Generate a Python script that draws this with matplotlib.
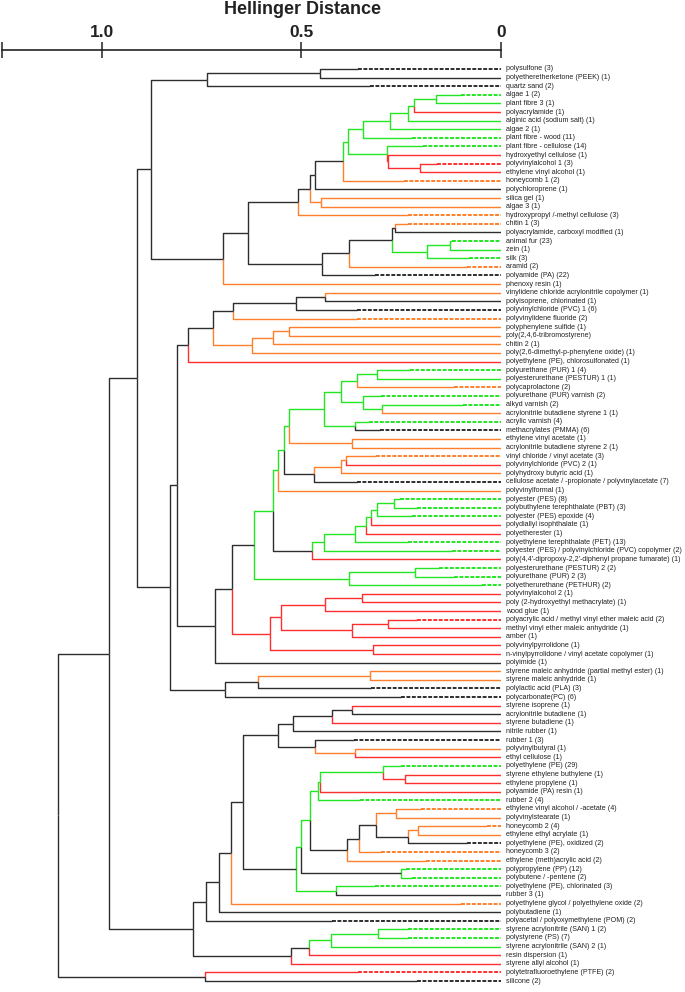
import matplotlib
matplotlib.use("Agg")  # no display
import matplotlib.pyplot as plt

plt.rcParams["font.family"] = ["Liberation Sans", "DejaVu Sans"]

# colour codes used in the tree
COLORS = {"k": "#2e2e2e", "g": "#22e622", "r": "#ff2e2e", "o": "#ff7f2a"}

# --- leaves, top to bottom ---
labels = [
    "polysulfone (3)", "polyetheretherketone (PEEK) (1)", "quartz sand (2)",
    "algae 1 (2)", "plant fibre 3 (1)", "polyacrylamide (1)",
    "alginic acid (sodium salt) (1)", "algae 2 (1)", "plant fibre - wood (11)",
    "plant fibre - cellulose (14)", "hydroxyethyl cellulose (1)",
    "polyvinylalcohol 1 (3)", "ethylene vinyl alcohol (1)", "honeycomb 1 (2)",
    "polychloroprene (1)", "silica gel (1)", "algae 3 (1)",
    "hydroxypropyl /-methyl cellulose (3)", "chitin 1 (3)",
    "polyacrylamide, carboxyl modified (1)", "animal fur (23)", "zein (1)",
    "silk (3)", "aramid (2)", "polyamide (PA) (22)", "phenoxy resin (1)",
    "vinylidene chloride acrylonitrile copolymer (1)",
    "polyisoprene, chlorinated (1)", "polyvinylchloride (PVC) 1 (6)",
    "polyvinylidene fluoride (2)", "polyphenylene sulfide (1)",
    "poly(2,4,6-tribromostyrene)", "chitin 2 (1)",
    "poly(2,6-dimethyl-p-phenylene oxide) (1)",
    "polyethylene (PE), chlorosulfonated (1)", "polyurethane (PUR) 1 (4)",
    "polyesterurethane (PESTUR) 1 (1)", "polycaprolactone (2)",
    "polyurethane (PUR) varnish (2)", "alkyd varnish (2)",
    "acrylonitrile butadiene styrene 1 (1)", "acrylic varnish (4)",
    "methacrylates (PMMA) (6)", "ethylene vinyl acetate (1)",
    "acrylonitrile butadiene styrene 2 (1)", "vinyl chloride / vinyl acetate (3)",
    "polyvinylchloride (PVC) 2 (1)", "polyhydroxy butyric acid (1)",
    "cellulose acetate / -propionate / polyvinylacetate (7)",
    "polyvinylformal (1)", "polyester (PES) (8)",
    "polybuthylene terephthalate (PBT) (3)", "polyester (PES) epoxide (4)",
    "polydiallyl isophthalate (1)", "polyetherester (1)",
    "polyethylene terephthalate (PET) (13)",
    "polyester (PES) / polyvinylchloride (PVC) copolymer (2)",
    "poly(4,4'-dipropoxy-2,2'-diphenyl propane fumarate) (1)",
    "polyesterurethane (PESTUR) 2 (2)", "polyurethane (PUR) 2 (3)",
    "polyetherurethane (PETHUR) (2)", "polyvinylalcohol 2 (1)",
    "poly (2-hydroxyethyl methacrylate) (1)", "wood glue (1)",
    "polyacrylic acid / methyl vinyl ether maleic acid (2)",
    "methyl vinyl ether maleic anhydride (1)", "amber (1)",
    "polyvinylpyrrolidone (1)", "n-vinylpyrrolidone / vinyl acetate copolymer (1)",
    "polyimide (1)", "styrene maleic anhydride (partial methyl ester) (1)",
    "styrene maleic anhydride (1)", "polylactic acid (PLA) (3)",
    "polycarbonate(PC) (6)", "styrene isoprene (1)", "acrylonitrile butadiene (1)",
    "styrene butadiene (1)", "nitrile rubber (1)", "rubber 1 (3)",
    "polyvinylbutyral (1)", "ethyl cellulose (1)", "polyethylene (PE) (29)",
    "styrene ethylene buthylene (1)", "ethylene propylene (1)",
    "polyamide (PA) resin (1)", "rubber 2 (4)",
    "ethylene vinyl alcohol / -acetate (4)", "polyvinylstearate (1)",
    "honeycomb 2 (4)", "ethylene ethyl acrylate (1)",
    "polyethylene (PE), oxidized (2)", "honeycomb 3 (2)",
    "ethylene (meth)acrylic acid (2)", "polypropylene (PP) (12)",
    "polybutene / -pentene (2)", "polyethylene (PE), chlorinated (3)",
    "rubber 3 (1)", "polyethylene glycol / polyethylene oxide (2)",
    "polybutadiene (1)", "polyacetal / polyoxymethylene (POM) (2)",
    "styrene acrylonitrile (SAN) 1 (2)", "polystyrene (PS) (7)",
    "styrene acrylonitrile (SAN) 2 (1)", "resin dispersion (1)",
    "styrene allyl alcohol (1)", "polytetrafluoroethylene (PTFE) (2)",
    "silicone (2)",
]

# one colour code per leaf, ten per chunk
leaf_colors = list(
    "kkkggrgggg" "rrrokooook" "gggokookko" "oooorggogg" "ogkoooroko"
    "gggrrggrgg" "grrrrrrrrk" "ookkrkrkko" "rgrrrgoooo" "koogggkokk"
    "gggrrrk"
)

# within-group spread (dashed part of a leaf line), 0 = single sample
dash_len = [
    0.358, 0, 0.328, 0.10, 0, 0, 0, 0, 0.224, 0.196,
    0, 0.16, 0, 0.243, 0, 0, 0, 0.233, 0.233, 0,
    0.123, 0, 0.08, 0.085, 0.317, 0, 0, 0, 0.36, 0.36,
    0, 0, 0, 0, 0, 0.227, 0, 0.118, 0.30, 0.096,
    0, 0.331, 0.303, 0, 0, 0.314, 0, 0, 0.36, 0,
    0.254, 0.21, 0.222, 0, 0, 0.233, 0.123, 0, 0.156, 0.118,
    0.047, 0, 0, 0, 0.21, 0, 0, 0, 0, 0,
    0, 0, 0.325, 0.251, 0, 0, 0, 0, 0.369, 0,
    0, 0.251, 0, 0, 0, 0.353, 0.20, 0, 0.036, 0,
    0.085, 0.30, 0.189, 0.238, 0.222, 0.317, 0, 0.10, 0, 0.424,
    0.233, 0.233, 0, 0, 0, 0.358, 0.21,
]

# merges: (node, upper child, lower child, Hellinger distance, colour)
merges = [
    ("A", 0, 1, 0.454, "k"), ("B", "A", 2, 0.738, "k"),
    ("K", 3, 4, 0.162, "g"), ("L", "K", 5, 0.218, "g"),
    ("M", "L", 6, 0.233, "g"), ("N", "M", 7, 0.278, "g"),
    ("O", "N", 8, 0.345, "g"), ("P2", 11, 12, 0.203, "r"),
    ("P1", 10, "P2", 0.284, "r"), ("P", 9, "P1", 0.286, "g"),
    ("J", "O", "P", 0.383, "g"), ("Q", "J", 13, 0.396, "k"),
    ("R", "Q", 14, 0.465, "k"), ("T", 15, 16, 0.452, "o"),
    ("S", "R", "T", 0.479, "k"), ("G", "S", 17, 0.509, "k"),
    ("U", 18, 19, 0.265, "k"), ("X", 20, 21, 0.129, "g"),
    ("W", "X", 22, 0.186, "g"), ("V", "U", "W", 0.274, "k"),
    ("Y", "V", 23, 0.380, "k"), ("H", "Y", 24, 0.449, "k"),
    ("F", "G", "H", 0.633, "k"), ("E", "F", 25, 0.697, "k"),
    ("C", "B", "E", 0.877, "k"),
    ("AA", 26, 27, 0.442, "k"), ("AB", "AA", 28, 0.515, "k"),
    ("AC", "AB", 29, 0.671, "k"), ("AD", 30, 31, 0.531, "o"),
    ("AE", "AD", 32, 0.571, "o"), ("AF", "AE", 33, 0.623, "o"),
    ("AG", "AC", "AF", 0.723, "k"), ("AH", "AG", 34, 0.784, "k"),
    ("BA", 35, 36, 0.312, "g"), ("BB", "BA", 37, 0.361, "g"),
    ("BC", 39, 40, 0.298, "g"), ("BD", 38, "BC", 0.345, "g"),
    ("BE", "BB", "BD", 0.402, "g"), ("BF", 41, 42, 0.367, "g"),
    ("BG", "BE", "BF", 0.443, "g"), ("BI", 43, 44, 0.374, "o"),
    ("BH", "BG", "BI", 0.531, "g"), ("BK", 45, 46, 0.389, "o"),
    ("BL", "BK", 47, 0.402, "o"), ("BM", "BL", 48, 0.469, "k"),
    ("BJ", "BH", "BM", 0.544, "g"), ("BO", "BJ", 49, 0.558, "g"),
    ("CA", 50, 51, 0.267, "g"), ("CB", "CA", 52, 0.311, "g"),
    ("CC", "CB", 53, 0.325, "g"), ("CD", "CC", 54, 0.338, "g"),
    ("CE", "CD", 55, 0.367, "g"), ("CF", "CE", 56, 0.443, "g"),
    ("CG", "CF", 57, 0.473, "k"), ("BP", "BO", "CG", 0.571, "g"),
    ("CH", 58, 59, 0.216, "g"), ("CI", "CH", 60, 0.380, "g"),
    ("BQ", "BP", "CI", 0.618, "k"),
    ("DA", 61, 62, 0.349, "r"), ("DB", "DA", 63, 0.440, "r"),
    ("DC", 64, 65, 0.284, "r"), ("DD", "DC", 66, 0.374, "r"),
    ("DE", "DB", "DD", 0.552, "r"), ("DF", 67, 68, 0.322, "r"),
    ("AO", "DE", "DF", 0.579, "r"), ("AM", "BQ", "AO", 0.675, "k"),
    ("AL", "AM", 69, 0.718, "k"), ("AI", "AH", "AL", 0.811, "k"),
    ("EA", 70, 71, 0.329, "o"), ("EB", "EA", 72, 0.609, "k"),
    ("AK", "EB", 73, 0.691, "k"), ("AJ", "AI", "AK", 0.830, "k"),
    ("D", "C", "AJ", 0.913, "k"),
    ("FA", 74, 75, 0.374, "k"), ("FB", "FA", 76, 0.424, "k"),
    ("FC", "FB", 77, 0.522, "k"), ("FD", 79, 80, 0.367, "o"),
    ("FE", 78, "FD", 0.467, "k"), ("FF", "FC", "FE", 0.558, "k"),
    ("GJ", 82, 83, 0.241, "r"), ("GI", 81, "GJ", 0.296, "g"),
    ("GH", "GI", 84, 0.453, "g"), ("GF", "GH", 85, 0.459, "g"),
    ("GM", 86, 87, 0.264, "o"), ("GN", 88, 89, 0.209, "o"),
    ("GO", "GN", 90, 0.233, "k"), ("GL", "GM", "GO", 0.314, "k"),
    ("GK", "GL", 91, 0.356, "k"), ("GG", "GK", 92, 0.385, "k"),
    ("GE", "GF", "GG", 0.478, "g"), ("GD", 93, 94, 0.251, "k"),
    ("GC", "GE", "GD", 0.500, "g"), ("GB", 95, 96, 0.413, "g"),
    ("GA", "GC", "GB", 0.513, "k"), ("FG", "FF", "GA", 0.647, "k"),
    ("FH", "FG", 97, 0.677, "k"), ("FI", "FH", 98, 0.707, "k"),
    ("FJ", "FI", 99, 0.740, "k"),
    ("HA", 100, 101, 0.309, "g"), ("HB", "HA", 102, 0.427, "g"),
    ("HC", "HB", 103, 0.480, "k"), ("HD", "HC", 104, 0.527, "k"),
    ("ZB", "FJ", "HD", 0.773, "k"), ("Z", "D", "ZB", 0.983, "k"),
    ("PT", 105, 106, 0.742, "k"), ("root", "Z", "PT", 1.111, "k"),
]

xticks = [1.25, 1.0, 0.5, 0.0]
xticklabels = ["", "1.0", "0.5", "0"]

W, H = 685, 992
fig = plt.figure(figsize=(W / 100, H / 100), dpi=100)
top_px = 50
ax = fig.add_axes([2 / W, 0, (501 - 2) / W, (H - top_px) / H])

n = len(labels)
px_per_leaf = 912 / (n - 1)
ax.set_ylim(n - 1 + 11 / px_per_leaf, -19 / px_per_leaf)
ax.set_xlim(1.2506, 0)

node_y = {i: float(i) for i in range(n)}
node_h = {i: 0.0 for i in range(n)}
node_c = {i: leaf_colors[i] for i in range(n)}

LW = 1.0
for name, a, b, h, c in merges:
    y = (node_y[a] + node_y[b]) / 2
    node_y[name], node_h[name], node_c[name] = y, h, c
    for child in (a, b):
        col = COLORS[node_c[child]]
        cy = node_y[child]
        if isinstance(child, int) and dash_len[child] > 0:
            d = dash_len[child]
            ax.plot([h, h, d], [y, cy, cy], color=col, lw=LW,
                    solid_capstyle="butt")
            ax.plot([d, 0], [cy, cy], color=col, lw=1.4,
                    linestyle=(0, (2.0, 0.8)), dash_capstyle="butt")
        else:
            ax.plot([h, h, node_h[child]], [y, cy, cy], color=col, lw=LW,
                    solid_capstyle="butt")

for i, lab in enumerate(labels):
    ax.text(-0.012, i, lab, fontsize=5.1, va="center", ha="left",
            color="#222222", clip_on=False)

# axis on top
for side in ("left", "right", "bottom"):
    ax.spines[side].set_visible(False)
ax.spines["top"].set_linewidth(1.2)
ax.spines["top"].set_color("#222222")
ax.xaxis.set_ticks_position("top")
ax.set_xticks(xticks)
ax.set_xticklabels(xticklabels)
ax.tick_params(axis="x", direction="inout", length=12, width=1.1,
               labelsize=12.5, pad=1, colors="#222222")
for t in ax.get_xticklabels():
    t.set_fontweight("bold")
ax.set_yticks([])

fig.text(303 / W, 1 - 10 / H, "Hellinger Distance", fontsize=13,
         fontweight="bold", ha="center", va="center", color="#222222")

fig.savefig("out.png", dpi=100)
